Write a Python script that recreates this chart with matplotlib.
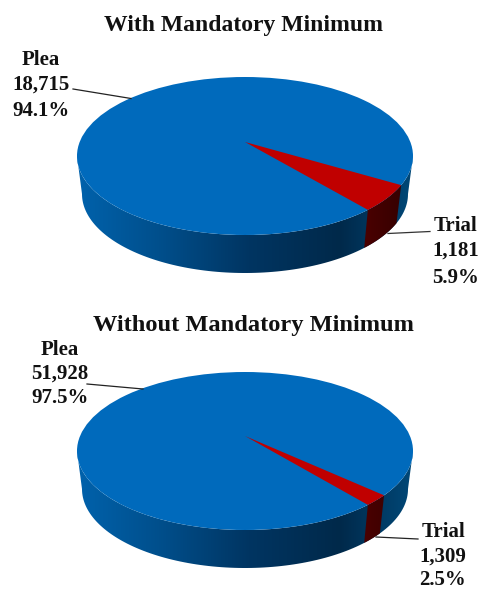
import numpy as np
import matplotlib
matplotlib.use("Agg")
import matplotlib.pyplot as plt
from matplotlib.patches import Ellipse, Polygon

plt.rcParams["font.family"] = ["Liberation Serif", "DejaVu Serif"]

# values
titles = ["With Mandatory Minimum", "Without Mandatory Minimum"]
categories = ["Plea", "Trial"]
with_min_counts = [18715, 1181]
without_min_counts = [51928, 1309]
with_min_pct = ["94.1%", "5.9%"]
without_min_pct = ["97.5%", "2.5%"]

BLUE = "#006ABC"
RED = "#C00000"
RX, RY, DEPTH = 168, 79, 38
BOTTOM_RX = 163  # perspective: the lower rim is a little narrower
END_ANGLE = -43.0  # lower edge of the trial slice


def ellipse_pts(cx, cy, t, rx=RX):
    return cx + rx * np.cos(t), cy - RY * np.sin(t)


def side_band(ax, cx, cy, t0, t1, stops, colors):
    # front wall of the pie, shaded left to right with an image clipped to the band
    t = np.radians(np.linspace(t0, t1, 120))
    x, y = ellipse_pts(cx, cy, t)
    xb, yb = ellipse_pts(cx, cy, t, BOTTOM_RX)
    pts = np.r_[np.c_[x, y], np.c_[xb[::-1], yb[::-1] + DEPTH]]
    clip = Polygon(pts, closed=True, transform=ax.transData, fc="none", ec="none")
    ax.add_patch(clip)
    xs = np.arange(cx - RX, cx + RX + 1)
    cols = matplotlib.colors.to_rgba_array(colors)
    grad = np.stack([np.interp(xs, stops, cols[:, i]) for i in range(3)], axis=-1)[None, :, :]
    im = ax.imshow(grad, extent=(xs[0], xs[-1], cy + RY + DEPTH, cy - RY),
                   aspect="auto", zorder=2, interpolation="bilinear")
    im.set_clip_path(clip)


def draw_pie(ax, cx, cy, apex_y, counts):
    share = counts[1] / sum(counts)
    start = END_ANGLE + share * 360

    stops = [cx - RX, cx - 86, cx + 4, cx + 95, cx + RX]
    side_band(ax, cx, cy, 180, 360, stops,
              ["#0062AC", "#004F8C", "#003562", "#00294A", "#004878"])
    side_band(ax, cx, cy, END_ANGLE, start, stops,
              ["#700000", "#700000", "#700000", "#580000", "#300000"])

    ax.add_patch(Ellipse((cx, cy), 2 * RX, 2 * RY, fc=BLUE, ec="none", zorder=3))
    t = np.radians(np.linspace(END_ANGLE, start, 40))
    x, y = ellipse_pts(cx, cy, t)
    ax.add_patch(Polygon(np.r_[[[cx, apex_y]], np.c_[x, y]], closed=True, fc=RED, ec="none", zorder=4))


def label(ax, x, ys, name, count, pct):
    for y, s in zip(ys, [name, f"{count:,}", pct]):
        ax.text(x, y, s, ha="center", va="center", fontsize=15, fontweight="bold", color="#111111")


fig = plt.figure(figsize=(4.83, 5.9), dpi=100)
ax = fig.add_axes([0, 0, 1, 1])
ax.set_xlim(0, 483)
ax.set_ylim(590, 0)
ax.axis("off")

draw_pie(ax, 245, 156, 142, with_min_counts)
draw_pie(ax, 245, 451, 436, without_min_counts)

ax.text(244, 26, titles[0], ha="center", va="center", fontsize=17, fontweight="bold", color="#111111")
ax.text(253.5, 325, titles[1], ha="center", va="center", fontsize=17.6, fontweight="bold", color="#111111")

label(ax, 41, [60, 85, 111], categories[0], with_min_counts[0], with_min_pct[0])
label(ax, 456, [226, 251, 278], categories[1], with_min_counts[1], with_min_pct[1])
label(ax, 60, [350, 374, 398], categories[0], without_min_counts[0], without_min_pct[0])
label(ax, 443, [532, 557, 580], categories[1], without_min_counts[1], without_min_pct[1])

# leader lines
ax.plot([73, 131], [89, 98.5], color="#222222", lw=0.9, zorder=5)
ax.plot([388, 430], [233.5, 231.5], color="#333333", lw=0.9, zorder=5)
ax.plot([87, 143], [384, 389], color="#222222", lw=0.9, zorder=5)
ax.plot([376, 418], [537, 539], color="#222222", lw=0.9, zorder=5)

ax.set_xlim(0, 483)
ax.set_ylim(590, 0)
fig.savefig("out.png", dpi=100)
